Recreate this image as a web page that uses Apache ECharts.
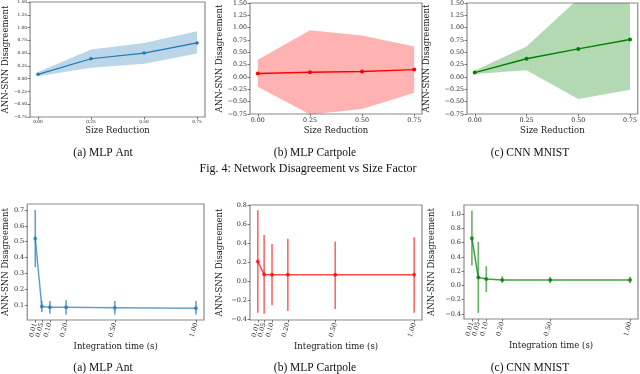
<!DOCTYPE html>
<html><head><meta charset="utf-8">
<script src="https://cdn.jsdelivr.net/npm/echarts@6/dist/echarts.min.js"></script>
<style>html,body{margin:0;padding:0;background:#fff}#c{width:640px;height:374px}</style>
</head><body><div id="c"></div>
<script>
// ---- Top row: size reduction ----
const sizeX = [0, 0.25, 0.5, 0.75];
const sizeTicks = [0, 0.25, 0.5, 0.75];
const sizeYTicks = [-0.75, -0.5, -0.25, 0, 0.25, 0.5, 0.75, 1.0, 1.25, 1.5];
const antMean = [0.085, 0.39, 0.50, 0.70];
const antLo = [0.045, 0.215, 0.29, 0.49];
const antHi = [0.13, 0.57, 0.70, 0.93];
const cartMean = [0.07, 0.095, 0.11, 0.15];
const cartLo = [-0.20, -0.76, -0.65, -0.32];
const cartHi = [0.35, 0.95, 0.84, 0.62];
const mnistMean = [0.09, 0.37, 0.57, 0.76];
const mnistLo = [0.06, 0.135, -0.446, -0.257];
const mnistHi = [0.13, 0.62, 1.586, 1.78];
// ---- Bottom row: integration time ----
const intTime = [0.01, 0.05, 0.10, 0.20, 0.50, 1.00];
const intTicksA = [0.01, 0.10, 0.50];
const intTicksB = [0.05, 0.20, 1.00];
const antTMean = [0.52, 0.09, 0.085, 0.085, 0.083, 0.08];
const antTLo = [0.34, 0.055, 0.045, 0.04, 0.04, 0.04];
const antTHi = [0.70, 0.125, 0.125, 0.13, 0.125, 0.125];
const cartTMean = [0.21, 0.075, 0.07, 0.07, 0.07, 0.07];
const cartTLo = [-0.33, -0.34, -0.25, -0.31, -0.29, -0.33];
const cartTHi = [0.75, 0.49, 0.395, 0.45, 0.42, 0.465];
const mnistTMean = [0.66, 0.11, 0.09, 0.076, 0.076, 0.076];
const mnistTLo = [0.28, -0.385, -0.095, 0.035, 0.03, 0.03];
const mnistTHi = [1.05, 0.61, 0.27, 0.13, 0.12, 0.12];
const antTYTicks = [0.1, 0.2, 0.3, 0.4, 0.5, 0.6, 0.7];
const cartTYTicks = [-0.4, -0.2, 0.0, 0.2, 0.4, 0.6, 0.8];
const mnistTYTicks = [-0.4, -0.2, 0.0, 0.2, 0.4, 0.6, 0.8, 1.0];
const subCaptions = ['(a) MLP Ant', '(b) MLP Cartpole', '(c) CNN MNIST'];
const figCaption = 'Fig. 4: Network Disagreement vs Size Factor';
const yName = 'ANN-SNN Disagreement';

const SERIF = '"DejaVu Serif", serif';
const CAPF = '"Liberation Serif", "Times New Roman", serif';
const fmt = d => v => (v < 0 ? '\u2212' : '') + Math.abs(v).toFixed(d);

const grids = [
  {left: 28, top: 1, width: 177, height: 116},
  {left: 250, top: 3, width: 172, height: 111},
  {left: 467, top: 3, width: 171, height: 111},
  {left: 25, top: 204, width: 179, height: 116},
  {left: 250, top: 205, width: 172, height: 115},
  {left: 464, top: 205, width: 174, height: 114}
].map(g => Object.assign({show: true, borderColor: '#8a8a8a', borderWidth: 1.2, backgroundColor: 'transparent'}, g));

function xAx(i, min, max, ticks, d, fs, rot, nameGap, named) {
  const ax = {type: 'value', gridIndex: i, min, max, position: 'bottom', offset: 0, splitLine: {show: false},
    axisLine: {show: false, onZero: false},
    axisTick: {show: true, length: 2.5, customValues: ticks, lineStyle: {color: '#555', width: 0.8}},
    axisLabel: {customValues: ticks, formatter: fmt(d), fontFamily: SERIF, fontSize: fs, color: '#2a2a2a', margin: 3, rotate: rot,
      hideOverlap: false, showMinLabel: true, showMaxLabel: true}};
  if (named) Object.assign(ax, {name: i < 3 ? 'Size Reduction' : 'Integration time (s)', nameLocation: 'middle', nameGap,
    nameTextStyle: {fontFamily: SERIF, fontSize: 8.5, color: '#1a1a1a'}});
  return ax;
}
function yAx(i, min, max, ticks, d, fs, nameGap) {
  return {type: 'value', gridIndex: i, min, max, splitLine: {show: false},
    axisLine: {show: false, onZero: false},
    axisTick: {show: true, length: 2.5, customValues: ticks, lineStyle: {color: '#555', width: 0.8}},
    axisLabel: {customValues: ticks, formatter: fmt(d), fontFamily: SERIF, fontSize: fs, color: '#2a2a2a', margin: 3,
      hideOverlap: false, showMinLabel: true, showMaxLabel: true},
    name: yName, nameLocation: 'middle', nameRotate: 90, nameGap,
    nameTextStyle: {fontFamily: SERIF, fontSize: 8.5, color: '#1a1a1a'}};
}

const xAxes = [
  xAx(0, -0.0375, 0.7875, sizeTicks, 2, 4.3, 0, 9, true),
  xAx(1, -0.0375, 0.7875, sizeTicks, 2, 6.3, 0, 12, true),
  xAx(2, -0.0375, 0.7875, sizeTicks, 2, 6.3, 0, 12, true),
  xAx(3, -0.0395, 1.0495, intTicksA, 2, 6.5, 74, 22, true),
  xAx(4, -0.0395, 1.0495, intTicksA, 2, 6.5, 74, 22, true),
  xAx(5, -0.0395, 1.0495, intTicksA, 2, 6.5, 74, 22, true),
  xAx(3, -0.0395, 1.0495, intTicksB, 2, 6.5, 74, 22, false),
  xAx(4, -0.0395, 1.0495, intTicksB, 2, 6.5, 74, 22, false),
  xAx(5, -0.0395, 1.0495, intTicksB, 2, 6.5, 74, 22, false)
];
const yAxes = [
  yAx(0, -0.75, 1.5, sizeYTicks, 2, 4.3, 17),
  yAx(1, -0.75, 1.5, sizeYTicks, 2, 6.3, 26),
  yAx(2, -0.75, 1.5, sizeYTicks, 2, 6.3, 36),
  yAx(3, 0.005, 0.738, antTYTicks, 1, 6.5, 15),
  yAx(4, -0.405, 0.805, cartTYTicks, 1, 6.5, 26),
  yAx(5, -0.47, 1.126, mnistTYTicks, 1, 6.5, 28)
];

function band(i, xs, lo, hi, fill) {
  return {type: 'custom', xAxisIndex: i, yAxisIndex: i, clip: true, silent: true,
    data: [[xs[0], lo[0]]],
    renderItem: (p, api) => {
      const pts = [];
      for (let k = 0; k < xs.length; k++) pts.push(api.coord([xs[k], hi[k]]));
      for (let k = xs.length - 1; k >= 0; k--) pts.push(api.coord([xs[k], lo[k]]));
      return {type: 'polygon', shape: {points: pts}, style: {fill}};
    }};
}
function line(i, xs, ys, color, opacity, w, sz) {
  return {type: 'line', xAxisIndex: i, yAxisIndex: i, clip: true,
    data: xs.map((x, k) => [x, ys[k]]), symbol: 'circle', symbolSize: sz, showSymbol: true,
    lineStyle: {color, width: w, opacity}, itemStyle: {color, opacity}, emphasis: {disabled: true}};
}
function errs(i, xs, lo, hi, color, opacity) {
  return {type: 'custom', xAxisIndex: i, yAxisIndex: i, clip: true,
    data: xs.map((x, k) => [x, lo[k], hi[k]]), encode: {x: 0, y: [1, 2]},
    renderItem: (p, api) => {
      const a = api.coord([api.value(0), api.value(1)]);
      const b = api.coord([api.value(0), api.value(2)]);
      return {type: 'line', shape: {x1: a[0], y1: a[1], x2: b[0], y2: b[1]},
        style: {stroke: color, lineWidth: 1.6, opacity}};
    }};
}

const BLUE = '#1f77b4', RED = '#ff0000', GREEN = '#008000';
const series = [
  band(0, sizeX, antLo, antHi, 'rgba(31,119,180,0.3)'),
  line(0, sizeX, antMean, BLUE, 1, 1.2, 3.5),
  band(1, sizeX, cartLo, cartHi, 'rgba(255,0,0,0.3)'),
  line(1, sizeX, cartMean, RED, 1, 1.4, 4),
  band(2, sizeX, mnistLo, mnistHi, 'rgba(0,128,0,0.3)'),
  line(2, sizeX, mnistMean, GREEN, 1, 1.4, 4),
  errs(3, intTime, antTLo, antTHi, BLUE, 0.7),
  line(3, intTime, antTMean, BLUE, 0.7, 1.5, 4),
  errs(4, intTime, cartTLo, cartTHi, RED, 0.6),
  line(4, intTime, cartTMean, RED, 0.7, 1.5, 4),
  errs(5, intTime, mnistTLo, mnistTHi, GREEN, 0.6),
  line(5, intTime, mnistTMean, GREEN, 0.75, 1.5, 4)
];

const capStyle = t => ({fontFamily: CAPF, fontSize: 11.5, fill: '#111', text: t, textAlign: 'center', textVerticalAlign: 'middle'});
const graphic = [
  {type: 'text', x: 103, y: 153, style: capStyle(subCaptions[0])},
  {type: 'text', x: 315, y: 153, style: capStyle(subCaptions[1])},
  {type: 'text', x: 530, y: 153, style: capStyle(subCaptions[2])},
  {type: 'text', x: 308, y: 169, style: Object.assign(capStyle(figCaption), {fontSize: 12})},
  {type: 'text', x: 103, y: 368, style: capStyle(subCaptions[0])},
  {type: 'text', x: 315, y: 368, style: capStyle(subCaptions[1])},
  {type: 'text', x: 530, y: 368, style: capStyle(subCaptions[2])}
];

const chart = echarts.init(document.getElementById('c'), null, {renderer: 'canvas'});
chart.setOption({animation: false, grid: grids, xAxis: xAxes, yAxis: yAxes, series, graphic});
</script></body></html>
